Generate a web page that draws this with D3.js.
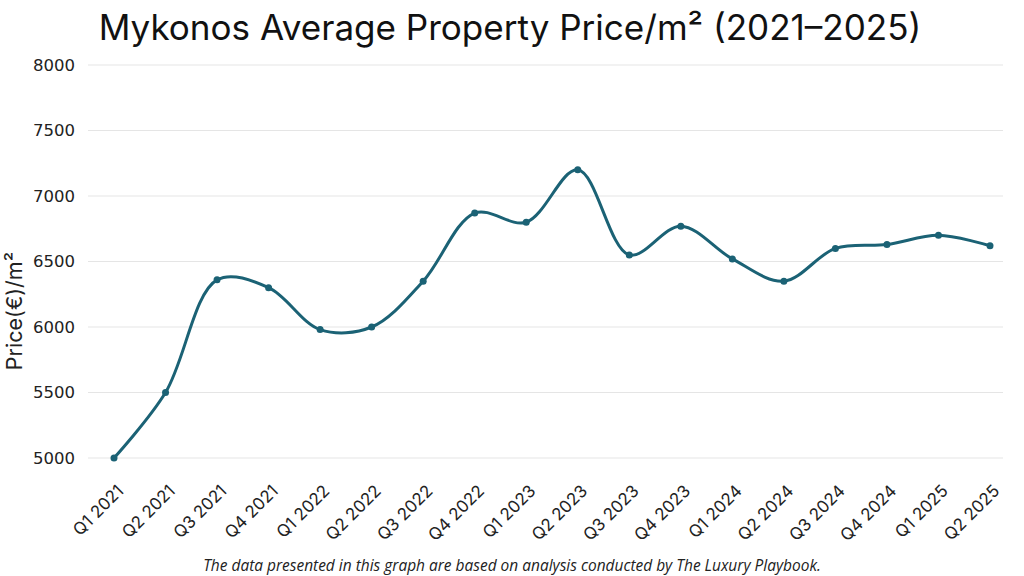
<!DOCTYPE html>
<html><head><meta charset="utf-8">
<script src="https://cdn.jsdelivr.net/npm/d3@7"></script>
<style>body{margin:0;background:#fff;}svg{display:block;}</style>
</head><body>
<svg id="c" width="1024" height="576"></svg>
<script>
const categories = ["Q1 2021","Q2 2021","Q3 2021","Q4 2021","Q1 2022","Q2 2022","Q3 2022","Q4 2022","Q1 2023","Q2 2023","Q3 2023","Q4 2023","Q1 2024","Q2 2024","Q3 2024","Q4 2024","Q1 2025","Q2 2025"];
const prices = [5000,5500,6360,6300,5980,6000,6350,6870,6800,7200,6550,6770,6520,6350,6600,6630,6700,6620];
const yTicks = [5000,5500,6000,6500,7000,7500,8000];
const titleText = "Mykonos Average Property Price/m² (2021–2025)";
const yTitle = "Price(€)/m²";
const footer = "The data presented in this graph are based on analysis conducted by The Luxury Playbook.";

const svg = d3.select("#c");
const color = "#1b6275";
const gridL = 88, gridR = 1003;
const x = d3.scalePoint().domain(categories).range([114, 990]);
const y = d3.scaleLinear().domain([5000, 8000]).range([458, 65]);

// grid
svg.append("g").selectAll("line").data(yTicks).join("line")
  .attr("x1", gridL).attr("x2", gridR)
  .attr("y1", d => y(d)).attr("y2", d => y(d))
  .attr("stroke", "#e5e5e5").attr("stroke-width", 1);

// y axis
const yAxis = svg.append("g").attr("transform", `translate(${gridL},0)`)
  .call(d3.axisLeft(y).tickValues(yTicks).tickSize(0).tickPadding(13).tickFormat(d3.format("d")));
yAxis.select(".domain").remove();
yAxis.selectAll("text").attr("font-family", "'DejaVu Sans', sans-serif").attr("font-size", 16.5).attr("fill", "#222");

// x axis
const xAxis = svg.append("g").attr("transform", `translate(0,458)`)
  .call(d3.axisBottom(x).tickSize(0).tickPadding(0));
xAxis.select(".domain").remove();
xAxis.selectAll("text")
  .attr("font-family", "Inter, 'Noto Sans', sans-serif").attr("font-size", 17).attr("fill", "#222")
  .attr("text-anchor", "end").attr("dy", null).attr("y", 0)
  .attr("transform", "translate(1,25) rotate(-45)")
  .attr("dominant-baseline", "hanging");

// line
const line = d3.line().x((d, i) => x(categories[i])).y(d => y(d)).curve(d3.curveCatmullRom.alpha(0.5));
svg.append("path").datum(prices).attr("d", line)
  .attr("fill", "none").attr("stroke", color).attr("stroke-width", 3).attr("stroke-linejoin", "round");
svg.append("g").selectAll("circle").data(prices).join("circle")
  .attr("cx", (d, i) => x(categories[i])).attr("cy", d => y(d)).attr("r", 3.5).attr("fill", color);

// title
const t = svg.append("text").attr("x", 510).attr("y", 40).attr("text-anchor", "middle")
  .attr("font-family", "Inter, 'Noto Sans', sans-serif").attr("font-size", 34).attr("fill", "#111")
  .text(titleText);
const tw = t.node().getComputedTextLength();
t.attr("font-size", 34 * 823 / tw);

// y title
svg.append("text").attr("transform", "translate(22,311) rotate(-90)").attr("text-anchor", "middle")
  .attr("font-family", "Inter, 'Noto Sans', sans-serif").attr("font-size", 21.5).attr("fill", "#222")
  .text(yTitle);

// footer
const f = svg.append("text").attr("x", 512).attr("y", 571).attr("text-anchor", "middle")
  .attr("font-family", "'Open Sans', 'Noto Sans', sans-serif").attr("font-style", "italic")
  .attr("font-size", 13).attr("fill", "#222").text(footer);
const fw = f.node().getComputedTextLength();
f.attr("font-size", 13 * 618 / fw);
</script>
</body></html>
